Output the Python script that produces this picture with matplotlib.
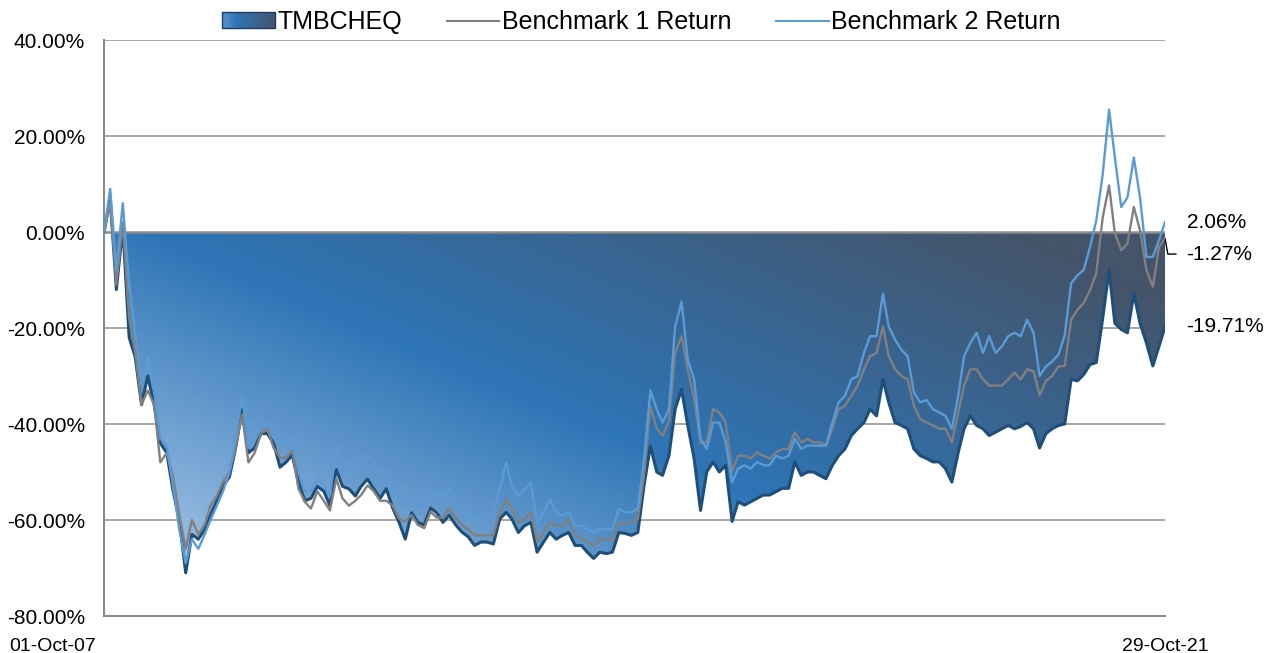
import numpy as np
import pandas as pd
import matplotlib
matplotlib.use('Agg')
import matplotlib.pyplot as plt
import matplotlib.dates as mdates
from matplotlib.colors import LinearSegmentedColormap
from matplotlib.legend_handler import HandlerBase
from matplotlib.patches import Rectangle, Patch
from matplotlib.lines import Line2D

plt.rcParams['font.family'] = ['Liberation Sans', 'DejaVu Sans']

# start day, month ends, last day
dates = pd.DatetimeIndex([pd.Timestamp('2007-10-01')]
                         + list(pd.date_range('2007-10-31', '2021-09-30', freq='ME'))
                         + [pd.Timestamp('2021-10-29')])

tmbcheq = [
    0, 7, -12, 1, -22, -26, -36, -30, -36, -44,
    -46, -54, -60, -71, -63, -64, -62, -59, -56, -53,
    -51, -45, -37, -46, -45, -42, -42, -44, -49, -48,
    -46.5, -52, -56, -55.5, -53, -54, -57, -49.5, -53, -53.5,
    -55, -53, -51.5, -53.5, -55.5, -53.5, -57.5, -60.5, -64, -58.5,
    -60.5, -61, -57.5, -58.5, -60.5, -59, -61, -62.5, -63.5, -65.3,
    -64.6, -64.6, -65, -59.8, -58.4, -59.8, -62.6, -61.2, -60.5, -66.7,
    -64.6, -62.6, -64, -63.2, -62.6, -65.3, -65.3, -66.7, -68, -66.7,
    -67, -66.7, -62.6, -62.8, -63.2, -62.6, -52.9, -44.6, -50, -50.7,
    -46.6, -36.9, -32.8, -40.3, -47.2, -58, -50, -47.9, -50, -48.6,
    -60.3, -56.2, -56.9, -56.2, -55.5, -54.8, -54.8, -54.1, -53.4, -53.4,
    -47.9, -50.7, -50, -50, -50.7, -51.4, -48.6, -46.6, -45.2, -42.4,
    -41, -39.7, -36.9, -38.3, -30.7, -35.5, -39.7, -40.3, -41, -45.2,
    -46.6, -47.2, -47.9, -47.9, -49.3, -52.1, -45.9, -41, -38.3, -40.3,
    -41, -42.4, -41.7, -41, -40.3, -41, -40.5, -39.7, -41, -45,
    -42, -41, -40.3, -40, -30.7, -31, -29.7, -27.6, -27.2, -18,
    -8, -19, -20.3, -21, -12.8, -19, -23.1, -27.9, -23.8, -19.71,
]

bench1 = [
    0, 6, -11, 2, -18, -25, -36, -33, -36, -48,
    -46, -51, -59, -66, -60, -63, -61, -57, -55, -52,
    -50, -45, -38, -48, -46, -42, -41, -45, -47, -47,
    -45.5, -53.4, -56.2, -57.6, -54, -56, -58, -51.4, -55.5, -57,
    -56, -54.8, -52.8, -54, -56, -56, -57, -59.7, -60.3, -59,
    -61, -61.7, -58.3, -59.5, -59.5, -57.6, -59.5, -61, -62, -63.2,
    -63.2, -63.2, -63.2, -58.4, -55.7, -57.7, -60.5, -59.8, -58.4, -64.6,
    -62.6, -60.5, -61.2, -61.2, -59.8, -63.2, -63.9, -64.6, -65.3, -64,
    -64, -64, -60.5, -60.8, -60.5, -59.8, -50.8, -36.3, -41, -42.4,
    -39.5, -25.2, -21.7, -28.6, -34.8, -44, -43.8, -36.9, -37.6, -39.7,
    -50, -46.6, -46.6, -47.2, -45.9, -46.6, -47.2, -45.9, -45.2, -45.2,
    -41.7, -43.8, -43.1, -43.8, -43.8, -44.5, -41, -36.9, -36.2, -34.1,
    -32, -28.6, -25.9, -25.2, -19.7, -25.9, -28.6, -30, -30.7, -36.2,
    -39, -39.7, -40.3, -41, -41, -43.8, -37.6, -32, -28.6, -28.6,
    -30.7, -32, -32, -32, -30.7, -29.3, -30.7, -28.6, -29, -34,
    -31, -30, -28, -27.9, -18.3, -16.2, -14.8, -12.1, -8.6, 3,
    9.7, -0.3, -3.8, -2.4, 5.2, 0.3, -7.9, -11.4, -3.1, -1.27,
]

bench2 = [
    0, 9, -8, 6, -11, -21, -32, -26, -33, -43,
    -44.5, -53, -62, -69, -64, -66, -63, -60, -57, -54,
    -50, -43, -34, -45, -43, -40, -40, -40, -45, -43,
    -42.8, -50, -54, -54, -51.4, -52.8, -55, -44.5, -49.3, -50,
    -49.3, -48, -46.5, -48, -50.7, -49.3, -51.4, -55.5, -57.6, -54.8,
    -57, -57, -54, -54.8, -54.8, -53.4, -56.2, -57.6, -59, -59.8,
    -59.1, -58.8, -58.4, -53.6, -48, -52.9, -55, -53.6, -52.2, -60.5,
    -58.4, -55.7, -58.4, -59.1, -58.4, -61.2, -61.2, -61.9, -62.6, -61.9,
    -61.9, -61.9, -57.7, -58.4, -58.4, -57.7, -47.4, -33, -37, -39.7,
    -36.9, -19.7, -14.5, -26.6, -30.7, -43, -45.2, -39.7, -39.7, -43.8,
    -52.1, -49.3, -48.6, -49.3, -47.9, -48.6, -48.6, -46.6, -47.2, -46.6,
    -43.1, -45.2, -44.5, -44.5, -44.5, -44.5, -39.7, -35.5, -34.1, -30.7,
    -30, -25.2, -21.7, -21.7, -12.8, -19.7, -22.4, -24.5, -25.9, -33.4,
    -35.5, -35, -36.9, -37.6, -38.3, -41, -34.1, -25.9, -23.1, -21,
    -25.2, -21.7, -25.2, -23.8, -21.7, -21, -21.7, -18.3, -21, -30,
    -28, -27, -25.5, -21.5, -10.7, -9, -7.9, -3.1, 2.4, 12,
    25.5, 15.5, 5.2, 7.2, 15.5, 7.2, -5.2, -5.2, -1.7, 2.06,
]

labels = ['TMBCHEQ', 'Benchmark 1 Return', 'Benchmark 2 Return']
y_ticks = [-80, -60, -40, -20, 0, 20, 40]

x = mdates.date2num(dates.values)
tmb = np.array(tmbcheq)
b1 = np.array(bench1)
b2 = np.array(bench2)

grad_cmap = LinearSegmentedColormap.from_list(
    'fill', [(0.0, '#aecbeb'), (0.45, '#2e75b6'), (0.92, '#44546a'), (1.0, '#44546a')])


class GradientHandler(HandlerBase):
    def create_artists(self, legend, orig_handle, xdescent, ydescent,
                       width, height, fontsize, trans):
        n = 24
        arts = []
        for i in range(n):
            c = grad_cmap(0.3 + 0.6 * i / (n - 1))
            arts.append(Rectangle((-xdescent + i * width / n, -ydescent), width / n + 0.3, height,
                                  facecolor=c, edgecolor='none', transform=trans))
        arts.append(Rectangle((-xdescent, -ydescent), width, height, facecolor='none',
                              edgecolor='#1f3864', lw=1, transform=trans))
        return arts


fig = plt.figure(figsize=(12.68, 6.53), dpi=100)
ax = fig.add_axes([104 / 1268, 1 - 616 / 653, 1061 / 1268, 576 / 653])

for t in y_ticks:
    if t != 0:
        ax.axhline(t, color='#a6a6a6', lw=1.4, zorder=1)

# gradient area
fill = ax.fill_between(x, 0, tmb, facecolor='none', edgecolor='none', zorder=2)
lo = tmb.min()
U, W = np.meshgrid(np.linspace(0, 1, 500), np.linspace(0, 1, 300))
grad = (0.69 * U + 0.515 * W) / 1.205
img = ax.imshow(grad, extent=[x[0], x[-1], lo, 0], origin='lower', aspect='auto',
                cmap=grad_cmap, vmin=0, vmax=1, zorder=2, interpolation='bilinear')
img.set_clip_path(fill.get_paths()[0], ax.transData)

ax.axhline(0, color='#8c8c8c', lw=1.8, zorder=2.5)

ax.plot(x, tmb, color='#1f4e79', lw=2.2, zorder=3)
ax.plot(x, b1, color='#808080', lw=1.7, zorder=4)
ax.plot(x, b2, color='#5b9bd5', lw=1.7, zorder=5)

ax.set_xlim(x[0], x[-1])
ax.set_ylim(-80, 40)
ax.set_yticks(y_ticks)
ax.set_yticklabels(['{:.2f}%'.format(t) for t in y_ticks])
ax.tick_params(axis='y', length=0, pad=13.5, labelsize=15)
ax.set_xticks([])
for s in ['top', 'right']:
    ax.spines[s].set_visible(False)
for s in ['left', 'bottom']:
    ax.spines[s].set_color('#8c8c8c')
    ax.spines[s].set_linewidth(1.5)

# date labels at both ends
ax.annotate(dates[0].strftime('%d-%b-%y'), xy=(x[0], 0), xycoords=('data', 'axes fraction'),
            xytext=(-6, -22), textcoords='offset points', ha='right', va='center', fontsize=14)
ax.annotate(dates[-1].strftime('%d-%b-%y'), xy=(x[-1], 0), xycoords=('data', 'axes fraction'),
            xytext=(0, -22), textcoords='offset points', ha='center', va='center', fontsize=14)

# end value labels
ax.annotate('{:.2f}%'.format(b2[-1]), xy=(x[-1], b2[-1]), xytext=(16, 0),
            textcoords='offset points', ha='left', va='center', fontsize=15)
ax.annotate('{:.2f}%'.format(b1[-1]), xy=(x[-1], b1[-1]), xytext=(15, -11.5),
            textcoords='offset points', ha='left', va='center', fontsize=15,
            arrowprops=dict(arrowstyle='-', color='black', lw=1, shrinkA=5, shrinkB=0,
                            connectionstyle='angle,angleA=0,angleB=-80,rad=0'))
ax.annotate('{:.2f}%'.format(tmb[-1]), xy=(x[-1], tmb[-1]), xytext=(15, 0),
            textcoords='offset points', ha='left', va='center', fontsize=15)

handles = [Patch(), Line2D([], [], color='#808080', lw=1.5), Line2D([], [], color='#5b9bd5', lw=1.5)]
fig.legend(handles, labels, loc='center', bbox_to_anchor=(0.506, 0.966), ncol=3, frameon=False,
           fontsize=18, handlelength=2.1, handleheight=0.6, handletextpad=0.1, columnspacing=1.8,
           handler_map={Patch: GradientHandler()})

fig.savefig('out.png', dpi=100)
